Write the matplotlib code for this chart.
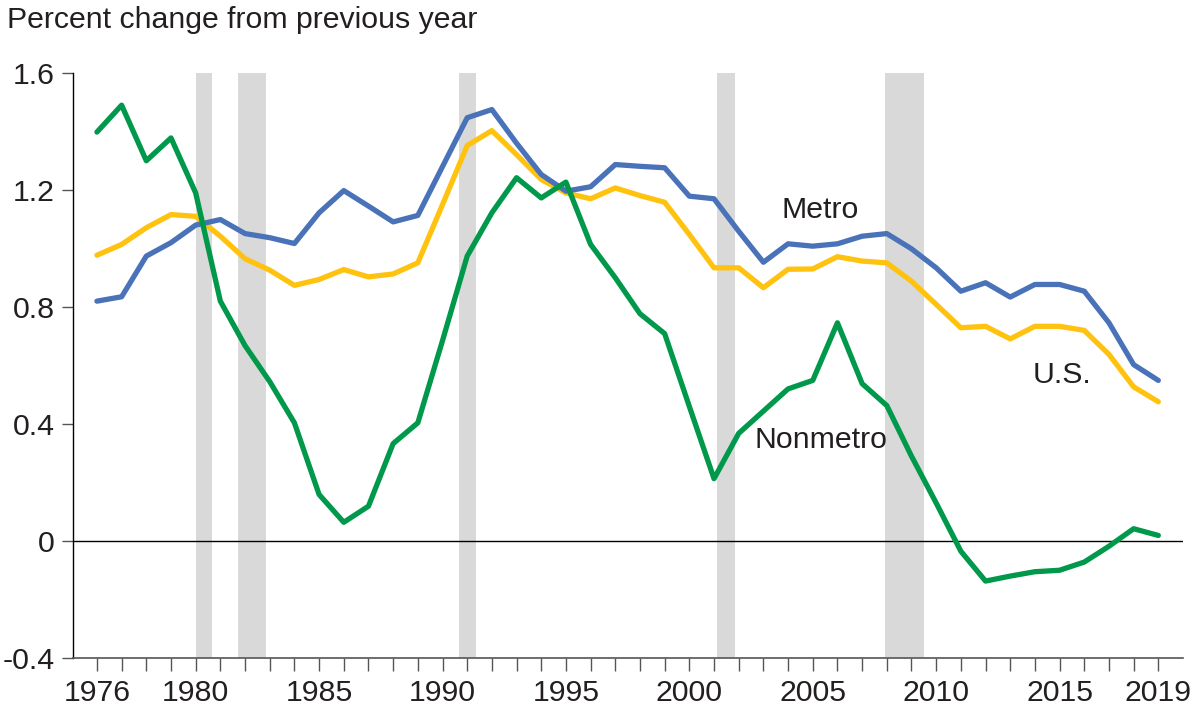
import matplotlib
matplotlib.use("Agg")
import matplotlib.pyplot as plt

plt.rcParams['font.family'] = ['Liberation Sans', 'DejaVu Sans']

years = list(range(1976, 2020))
metro = [0.82, 0.835, 0.974, 1.02, 1.08, 1.099, 1.051, 1.037, 1.017, 1.122,
         1.198, 1.145, 1.091, 1.113, 1.28, 1.447, 1.475, 1.36, 1.253, 1.196,
         1.211, 1.287, 1.281, 1.276, 1.179, 1.17, 1.059, 0.953, 1.016, 1.008,
         1.016, 1.042, 1.051, 0.999, 0.934, 0.854, 0.883, 0.834, 0.877, 0.877,
         0.854, 0.746, 0.603, 0.549]
us = [0.977, 1.014, 1.071, 1.116, 1.11, 1.042, 0.965, 0.926, 0.874, 0.894,
      0.928, 0.903, 0.913, 0.951, 1.15, 1.352, 1.403, 1.321, 1.236, 1.19,
      1.17, 1.207, 1.181, 1.158, 1.048, 0.934, 0.934, 0.866, 0.929, 0.93,
      0.972, 0.957, 0.951, 0.888, 0.809, 0.729, 0.734, 0.691, 0.734, 0.734,
      0.72, 0.638, 0.527, 0.476]
nonmetro = [1.398, 1.49, 1.30, 1.378, 1.19, 0.82, 0.668, 0.545, 0.404, 0.159,
            0.064, 0.119, 0.333, 0.404, 0.685, 0.974, 1.122, 1.242, 1.173, 1.227,
            1.014, 0.90, 0.777, 0.709, 0.46, 0.213, 0.368, 0.444, 0.52, 0.549,
            0.746, 0.538, 0.463, 0.29, 0.13, -0.035, -0.137, -0.12, -0.105, -0.10,
            -0.072, -0.018, 0.042, 0.019]

recessions = [(1980.0, 1980.65), (1981.72, 1982.85), (1990.67, 1991.35),
              (2001.13, 2001.86), (2007.91, 2009.52)]

xtick_labels = [1976, 1980, 1985, 1990, 1995, 2000, 2005, 2010, 2015, 2019]
yticks = [-0.4, 0, 0.4, 0.8, 1.2, 1.6]
ytick_labels = ['-0.4', '0', '0.4', '0.8', '1.2', '1.6']

c_metro = '#4A72B8'
c_us = '#FFC20E'
c_non = '#00984A'
txt = '#231F20'
fs = 21.8

fig = plt.figure(figsize=(11.92, 7.13), dpi=100)
ax = fig.add_axes([73/1192, 55/713, (1183-73)/1192, (658-73)/713])

for a, b in recessions:
    ax.axvspan(a, b, color='#D9D9D9', lw=0, zorder=0)

ax.axhline(0, color='black', lw=1.0, zorder=1)

lw = 3.8
ax.plot(years, us, color=c_us, lw=lw, solid_capstyle='round', solid_joinstyle='round', zorder=3)
ax.plot(years, metro, color=c_metro, lw=lw, solid_capstyle='round', solid_joinstyle='round', zorder=4)
ax.plot(years, nonmetro, color=c_non, lw=lw, solid_capstyle='round', solid_joinstyle='round', zorder=5)

ax.set_xlim(1975.03, 2020.0)
ax.set_ylim(-0.4, 1.6)

ax.set_xticks(years, minor=True)
ax.set_xticks(xtick_labels)
ax.set_xticklabels([str(y) for y in xtick_labels])
ax.set_yticks(yticks)
ax.set_yticklabels(ytick_labels)

ax.tick_params(axis='x', which='both', direction='out', length=9, width=1.0,
               color='#555555', labelsize=fs, labelcolor=txt, pad=6)
ax.tick_params(axis='y', direction='out', length=8, width=1.0, color='#555555',
               labelsize=fs, labelcolor=txt, pad=5)

for s in ['top', 'right']:
    ax.spines[s].set_visible(False)
ax.spines['left'].set_color('black')
ax.spines['left'].set_linewidth(1.0)
ax.spines['bottom'].set_color('#555555')
ax.spines['bottom'].set_linewidth(1.2)

ax.text(2005.3, 1.13, 'Metro', fontsize=fs, color=txt, ha='center', va='center')
ax.text(2015.1, 0.569, 'U.S.', fontsize=fs, color=txt, ha='center', va='center')
ax.text(2005.35, 0.347, 'Nonmetro', fontsize=fs, color=txt, ha='center', va='center')

fig.text(7/1192, 1 - 20/713, 'Percent change from previous year', fontsize=fs,
         color=txt, ha='left', va='center')

fig.savefig('out.png', dpi=100)
